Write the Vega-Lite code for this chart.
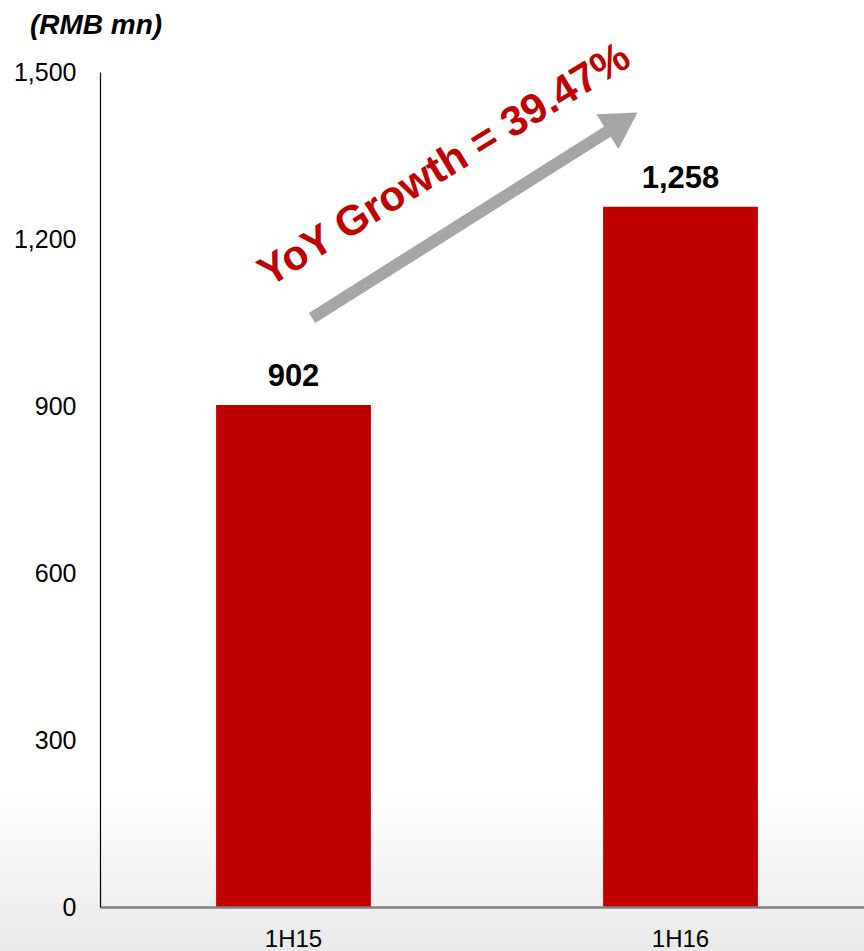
{
  "$schema": "https://vega.github.io/schema/vega-lite/v6.json",
  "width": 774,
  "height": 835,
  "autosize": {"type": "none"},
  "padding": {"left": 100, "top": 72, "right": 0, "bottom": 44},
  "background": "white",
  "title": {
    "text": "(RMB mn)",
    "frame": "group",
    "anchor": "start",
    "dx": -70,
    "offset": -5,
    "font": "Liberation Sans",
    "fontSize": 28,
    "fontStyle": "italic",
    "fontWeight": "bold",
    "color": "black"
  },
  "config": {
    "view": {"stroke": null},
    "font": "Liberation Sans"
  },
  "datasets": {
    "bars": [
      {"period": "1H15", "value": 902, "label": "902"},
      {"period": "1H16", "value": 1258, "label": "1,258"}
    ],
    "arrow": [
      {"x0": 0.048, "y0": 1058, "x1": 0.85, "y1": 1410}
    ],
    "head": [
      {"x": 0.85, "y": 1410}
    ],
    "note": [
      {"x": 0.39, "y": 1333, "text": "YoY Growth = 39.47%"}
    ],
    "bg": [
      {"xa": -0.76, "xb": 1.5, "ya": 215, "yb": -85}
    ]
  },
  "layer": [
    {
      "data": {"name": "bg"},
      "mark": {
        "type": "rect",
        "clip": false,
        "fill": {
          "gradient": "linear",
          "x1": 0, "y1": 0, "x2": 0, "y2": 1,
          "stops": [
            {"offset": 0, "color": "#ffffff"},
            {"offset": 1, "color": "#e8e8e8"}
          ]
        }
      },
      "encoding": {
        "x": {"field": "xa", "type": "quantitative", "scale": {"domain": [-0.5, 1.5], "nice": false, "zero": false}, "axis": null},
        "x2": {"field": "xb"},
        "y": {"field": "ya", "type": "quantitative", "scale": {"domain": [0, 1500], "nice": false}},
        "y2": {"field": "yb"}
      }
    },
    {
      "data": {"name": "bars"},
      "mark": {"type": "bar", "color": "#c00000"},
      "encoding": {
        "x": {
          "field": "period", "type": "nominal",
          "scale": {"paddingInner": 0.6, "paddingOuter": 0.3},
          "axis": {
            "title": null, "labelAngle": 0, "ticks": false, "zindex": 1,
            "domainColor": "#7f7f7f", "domainWidth": 2.5,
            "labelFontSize": 24, "labelColor": "black", "labelPadding": 20,
            "labelFont": "Liberation Sans"
          }
        },
        "y": {
          "field": "value", "type": "quantitative",
          "scale": {"domain": [0, 1500], "nice": false},
          "axis": {
            "title": null, "values": [0, 300, 600, 900, 1200, 1500],
            "format": ",d", "ticks": false, "grid": false, "zindex": 1,
            "domainColor": "black", "domainWidth": 1.2,
            "labelFontSize": 25, "labelColor": "black", "labelPadding": 24,
            "labelFont": "Liberation Sans"
          }
        }
      }
    },
    {
      "data": {"name": "bars"},
      "mark": {"type": "text", "fontSize": 31, "fontWeight": "bold", "color": "black", "baseline": "alphabetic", "dy": -19, "font": "Liberation Sans"},
      "encoding": {
        "x": {"field": "period", "type": "nominal", "scale": {"paddingInner": 0.6, "paddingOuter": 0.3}, "axis": null},
        "y": {"field": "value", "type": "quantitative"},
        "text": {"field": "label"}
      }
    },
    {
      "data": {"name": "arrow"},
      "mark": {"type": "rule", "color": "#a6a6a6", "strokeWidth": 12, "strokeCap": "butt"},
      "encoding": {
        "x": {"field": "x0", "type": "quantitative", "scale": {"domain": [-0.5, 1.5], "nice": false, "zero": false}, "axis": null},
        "x2": {"field": "x1"},
        "y": {"field": "y0", "type": "quantitative"},
        "y2": {"field": "y1"}
      }
    },
    {
      "data": {"name": "head"},
      "mark": {"type": "point", "shape": "triangle-up", "filled": true, "color": "#a6a6a6", "opacity": 1, "size": 1700, "angle": 57.6},
      "encoding": {
        "x": {"field": "x", "type": "quantitative", "scale": {"domain": [-0.5, 1.5], "nice": false, "zero": false}, "axis": null},
        "y": {"field": "y", "type": "quantitative"}
      }
    },
    {
      "data": {"name": "note"},
      "mark": {"type": "text", "fontSize": 42, "fontWeight": "bold", "color": "#c00000", "angle": -31.5, "align": "center", "baseline": "middle", "font": "Liberation Sans"},
      "encoding": {
        "x": {"field": "x", "type": "quantitative", "scale": {"domain": [-0.5, 1.5], "nice": false, "zero": false}, "axis": null},
        "y": {"field": "y", "type": "quantitative"},
        "text": {"field": "text"}
      }
    }
  ],
  "resolve": {"scale": {"x": "independent"}}
}
